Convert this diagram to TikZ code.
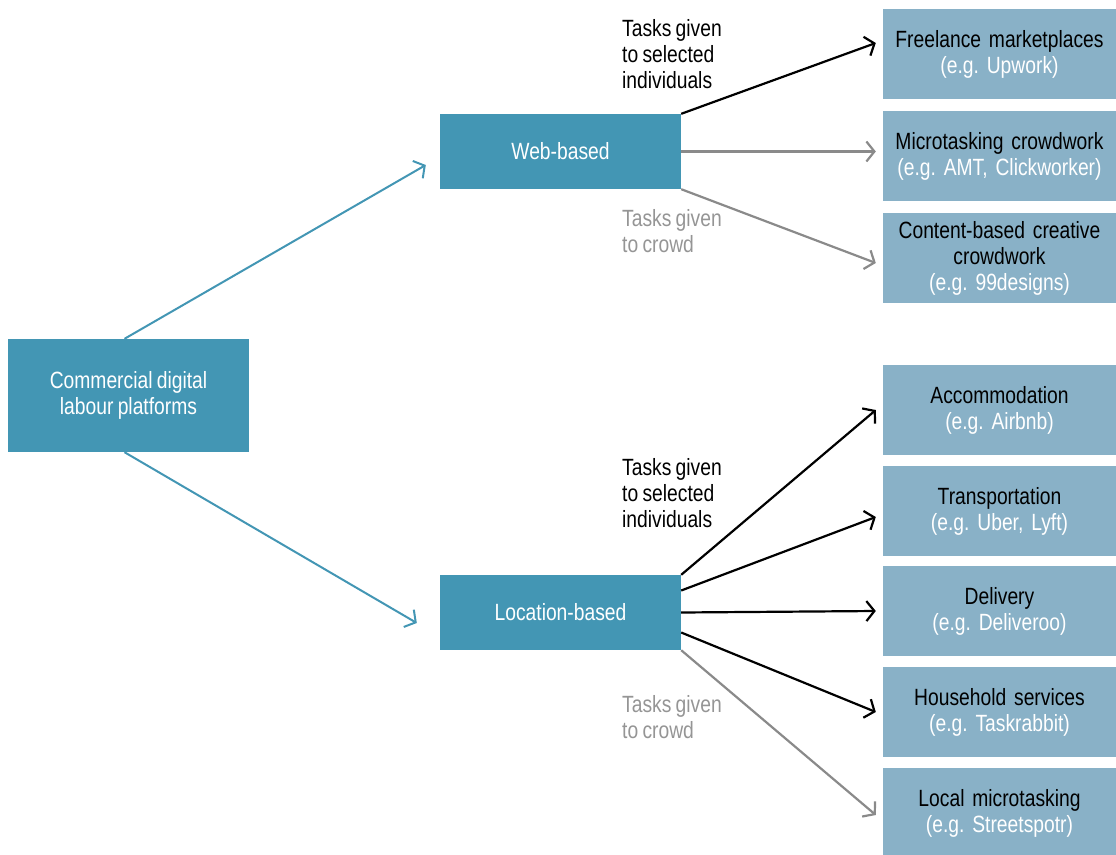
\documentclass[tikz,border=0pt]{standalone}
\usepackage{fontspec}
\setmainfont{Liberation Sans}[FakeStretch=0.82,WordSpace=0.8]
\usetikzlibrary{arrows.meta,calc}
\definecolor{tealA}{HTML}{4396B4}
\definecolor{lblue}{HTML}{89B1C7}
\definecolor{grayA}{HTML}{8A8A8A}
\definecolor{grayT}{HTML}{959595}
\frenchspacing
\begin{document}
\begin{tikzpicture}[x=1pt,y=-1pt,
 every node/.style={font=\fontsize{23.5}{26}\selectfont, inner sep=0pt},
 mainbox/.style={fill=tealA, text=white, align=center, minimum height=75pt, minimum width=241pt},
 sbox/.style={fill=lblue, align=center, minimum width=233pt, minimum height=90pt, text width=233pt},
 lab/.style={align=left, anchor=north west},
 tip/.style={-{Straight Barb[length=8pt,width=20pt]}},
 tarr/.style={tip, draw=tealA, line width=2pt},
 barr/.style={tip, draw=black, line width=2.2pt},
 garr/.style={tip, draw=grayA, line width=2.2pt},
]
\useasboundingbox (0,0) rectangle (1116,854);

\node[mainbox, minimum width=241pt, minimum height=113pt] (cdl) at (128.5,395.5) {Commercial digital\\labour platforms};
\node[mainbox] (web) at (560.5,151.5) {Web-based};
\node[mainbox] (loc) at (560.5,612.5) {Location-based};

\newcommand{\eg}[1]{\\{\color{white}#1}}
\node[sbox] (fre) at (999.5,54) {Freelance marketplaces\eg{(e.g. Upwork)}};
\node[sbox] (mic) at (999.5,156) {Microtasking crowdwork\eg{(e.g. AMT, Clickworker)}};
\node[sbox] (con) at (999.5,258) {Content-based creative\\crowdwork\eg{(e.g. 99designs)}};
\node[sbox] (acc) at (999.5,410) {Accommodation\eg{(e.g. Airbnb)}};
\node[sbox] (tra) at (999.5,511) {Transportation\eg{(e.g. Uber, Lyft)}};
\node[sbox] (del) at (999.5,611) {Delivery\eg{(e.g. Deliveroo)}};
\node[sbox] (hou) at (999.5,712) {Household services\eg{(e.g. Taskrabbit)}};
\node[sbox] (lmt) at (999.5,813) {Local microtasking\eg{(e.g. Streetspotr)}};

\node[lab] (l1) at (622,19) {Tasks given\\to selected\\individuals};
\node[lab, text=grayT] (l2) at (622,209) {Tasks given\\to crowd};
\node[lab] (l3) at (622,458) {Tasks given\\to selected\\individuals};
\node[lab, text=grayT] (l4) at (622,695) {Tasks given\\to crowd};

\coordinate (wtip) at ($(web.west)+(-14,13.5)$);
\coordinate (ltip) at ($(loc.west)+(-23,10.5)$);
\draw[tarr] ($(cdl.north)+(-4,0)$) -- (wtip);
\draw[tarr] ($(cdl.south)+(-4,0)$) -- (ltip);

\draw[barr] (web.north east) -- ($(fre.west)+(-7,-11)$);
\draw[garr] (web.east) -- ($(mic.west)+(-7,-4.5)$);
\draw[garr] (web.south east) -- ($(con.west)+(-7,5)$);

\draw[barr] (loc.north east) -- ($(acc.west)+(-7,0)$);
\draw[barr] ($(loc.east)+(0,-22)$) -- ($(tra.west)+(-7,6)$);
\draw[barr] (loc.east) -- ($(del.west)+(-7,0)$);
\draw[barr] ($(loc.east)+(0,20)$) -- ($(hou.west)+(-7,0)$);
\draw[garr] (loc.south east) -- ($(lmt.west)+(-7,2)$);
\end{tikzpicture}
\end{document}
